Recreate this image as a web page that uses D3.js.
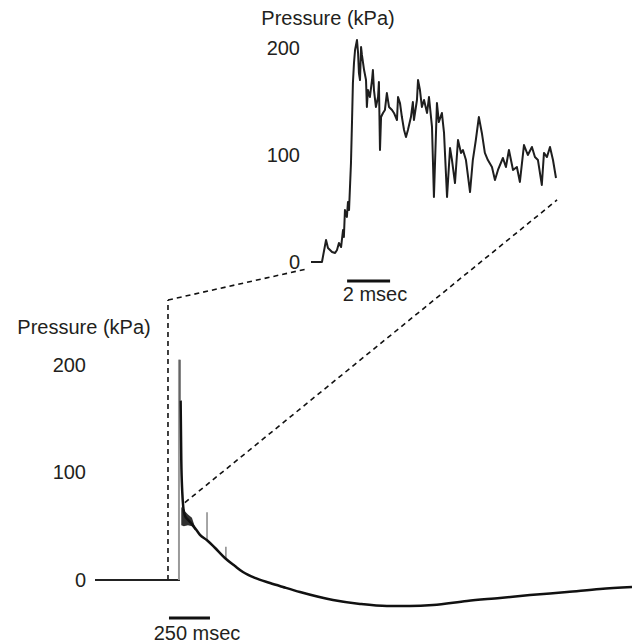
<!DOCTYPE html>
<html>
<head>
<meta charset="utf-8">
<script src="https://cdn.jsdelivr.net/npm/d3@7/dist/d3.min.js"></script>
<style>
  html, body { margin: 0; padding: 0; background: #fff; }
  svg { display: block; }
  text { font-family: "Liberation Sans", Arial, sans-serif; fill: #231f20; }
</style>
</head>
<body>
<svg id="chart" width="632" height="644"></svg>
<script>
// Expanded view of the pressure onset (time in ms, pressure in kPa)
const insetTime = [0, 0.51, 0.70, 0.79, 0.98, 1.12, 1.21, 1.30, 1.40, 1.49, 1.53, 1.58, 1.67, 1.72, 1.77,
  1.86, 1.91, 1.95, 2.00, 2.05, 2.14, 2.19, 2.23, 2.28, 2.33, 2.37, 2.47, 2.56, 2.60, 2.65, 2.74, 2.84,
  2.88, 2.93, 3.02, 3.12, 3.16, 3.21, 3.26, 3.35, 3.44, 3.53, 3.63, 3.77, 3.86, 4.00, 4.05, 4.14, 4.23,
  4.33, 4.42, 4.51, 4.65, 4.74, 4.79, 4.93, 4.98, 5.07, 5.16, 5.26, 5.40, 5.49, 5.63, 5.72, 5.86, 5.95,
  6.09, 6.19, 6.33, 6.47, 6.56, 6.70, 6.84, 6.98, 7.07, 7.21, 7.40, 7.53, 7.67, 7.81, 7.95, 8.09, 8.23,
  8.42, 8.56, 8.70, 8.93, 9.07, 9.21, 9.40, 9.58, 9.72, 9.91, 10.09, 10.28, 10.42, 10.56, 10.74, 10.84,
  10.98, 11.12, 11.26, 11.40];
const insetPressure = [0, 0, 20.6, 13.1, 9.3, 8.4, 11.2, 17.8, 14.0, 29.9, 23.4, 48.6, 42.1, 56.1, 48.6,
  92.5, 132.7, 167.3, 186.0, 198.1, 207.5, 195.3, 176.6, 170.1, 200.9, 193.5, 179.4, 170.1, 144.9, 160.7,
  154.2, 170.1, 179.4, 160.7, 144.9, 154.2, 168.2, 104.7, 135.5, 139.3, 142.1, 157.9, 144.9, 142.1, 139.3,
  132.7, 154.2, 148.6, 135.5, 123.4, 116.8, 123.4, 135.5, 149.5, 132.7, 151.4, 170.1, 160.7, 144.9, 151.4,
  139.3, 154.2, 126.2, 60.7, 148.6, 130.8, 139.3, 120.6, 60.7, 106.5, 95.3, 73.8, 114.0, 101.9, 104.7,
  95.3, 65.4, 95.3, 114.0, 135.5, 120.6, 101.9, 95.3, 88.8, 76.6, 86.0, 97.2, 88.8, 104.7, 86.0, 88.8,
  74.8, 109.3, 100.0, 107.5, 98.1, 95.3, 72.0, 101.9, 98.1, 107.5, 95.3, 78.5];

// Full recording: baseline, then decay after the peak (time in ms, pressure in kPa)
const baselineTime = [-518, 0];
const baselinePressure = [0, 0];
const peakPressure = 205;
const decayTime = [4, 8, 14, 20, 30, 49, 73, 98, 122, 165, 213, 274, 335, 384, 457, 549, 628, 732,
  933, 1098, 1262, 1402, 1543, 1750, 1951, 2134, 2360, 2561, 2756];
const decayPressure = [167, 112, 82, 68, 60, 56, 52, 47, 42, 37, 30, 20.5, 13, 7.4, 1.9, -2.8,
  -6.5, -11.2, -18.6, -22.3, -24.2, -24.2, -23.3, -19.5, -16.7, -14, -11.2, -8.4, -6.5];
// Oscillation envelope just after the peak
const bandTime = [8, 24, 49, 73, 92];
const bandUpper = [68, 65, 61, 58, 49];
const bandLower = [51, 50, 51, 50, 46];
// Isolated artefact spikes on the decay
const spikeTime = [165, 280];
const spikeLow = [37, 19];
const spikeHigh = [63, 31];

const yTicks = [0, 100, 200];

const svg = d3.select("#chart");

// Scales
const xFull = d3.scaleLinear().domain([-518, 2756]).range([95, 632]);
const yFull = d3.scaleLinear().domain([0, 200]).range([580, 365]);
const xInset = d3.scaleLinear().domain([0, 11.4]).range([311, 556]);
const yInset = d3.scaleLinear().domain([0, 200]).range([262, 48]);

// Axes (labels only)
function labelAxis(scale, x) {
  const g = svg.append("g").attr("transform", `translate(${x},0)`)
    .call(d3.axisLeft(scale).tickValues(yTicks).tickSize(0).tickPadding(0));
  g.select(".domain").remove();
  g.selectAll("text").attr("font-size", 20)
    .attr("font-family", "Liberation Sans, Arial, sans-serif").attr("fill", "#231f20");
}
labelAxis(yFull, 86);
labelAxis(yInset, 300);

svg.append("text").attr("x", 84).attr("y", 334).attr("text-anchor", "middle")
  .attr("font-size", 20).text("Pressure (kPa)");
svg.append("text").attr("x", 328).attr("y", 25).attr("text-anchor", "middle")
  .attr("font-size", 20).text("Pressure (kPa)");

// Dashed guides linking the full record to the expanded view
const guideTop = 300;
const dash = "5,4";
const gx = xFull(-73);
svg.append("line").attr("x1", gx).attr("y1", yFull(0)).attr("x2", gx).attr("y2", guideTop)
  .attr("stroke", "#111").attr("stroke-width", 1.6).attr("stroke-dasharray", dash);
svg.append("line").attr("x1", gx).attr("y1", guideTop)
  .attr("x2", xInset(-0.2)).attr("y2", yInset(-6.5))
  .attr("stroke", "#111").attr("stroke-width", 1.6).attr("stroke-dasharray", dash);
svg.append("line").attr("x1", xFull(30)).attr("y1", yFull(72))
  .attr("x2", xInset(11.45)).attr("y2", yInset(58))
  .attr("stroke", "#111").attr("stroke-width", 1.6).attr("stroke-dasharray", dash);

// Full record
const lineFull = d3.line().x(d => xFull(d[0])).y(d => yFull(d[1]));
svg.append("path").datum(d3.zip(baselineTime, baselinePressure))
  .attr("d", lineFull).attr("fill", "none").attr("stroke", "#222").attr("stroke-width", 2);
svg.append("line").attr("x1", xFull(0) - 1).attr("x2", xFull(0) - 1)
  .attr("y1", yFull(0)).attr("y2", yFull(peakPressure))
  .attr("stroke", "#9a9a9a").attr("stroke-width", 2);
svg.append("line").attr("x1", xFull(0)).attr("x2", xFull(0))
  .attr("y1", yFull(167)).attr("y2", yFull(peakPressure))
  .attr("stroke", "#555").attr("stroke-width", 1.5);
svg.append("path").datum(d3.zip(bandTime, bandUpper, bandLower))
  .attr("d", d3.area().x(d => xFull(d[0])).y0(d => yFull(d[2])).y1(d => yFull(d[1])))
  .attr("fill", "#1a1a1a").attr("opacity", 0.9);
svg.selectAll(".spike").data(d3.zip(spikeTime, spikeLow, spikeHigh)).join("line")
  .attr("x1", d => xFull(d[0])).attr("x2", d => xFull(d[0]))
  .attr("y1", d => yFull(d[1])).attr("y2", d => yFull(d[2]))
  .attr("stroke", "#888").attr("stroke-width", 1.5);
svg.append("path").datum(d3.zip(decayTime, decayPressure))
  .attr("d", lineFull.curve(d3.curveMonotoneX)).attr("fill", "none")
  .attr("stroke", "#111").attr("stroke-width", 2.5);

// Expanded trace
svg.append("path").datum(d3.zip(insetTime, insetPressure))
  .attr("d", d3.line().x(d => xInset(d[0])).y(d => yInset(d[1])))
  .attr("fill", "none").attr("stroke", "#1e1e1e").attr("stroke-width", 2)
  .attr("stroke-linejoin", "round");

// Time scale bars
svg.append("line").attr("x1", xFull(-67)).attr("x2", xFull(183)).attr("y1", 618).attr("y2", 618)
  .attr("stroke", "#111").attr("stroke-width", 3);
svg.append("text").attr("x", 197).attr("y", 640).attr("text-anchor", "middle")
  .attr("font-size", 20).text("250 msec");
svg.append("line").attr("x1", xInset(1.68)).attr("x2", xInset(3.68)).attr("y1", 281).attr("y2", 281)
  .attr("stroke", "#111").attr("stroke-width", 3);
svg.append("text").attr("x", 375).attr("y", 301).attr("text-anchor", "middle")
  .attr("font-size", 20).text("2 msec");
</script>
</body>
</html>
